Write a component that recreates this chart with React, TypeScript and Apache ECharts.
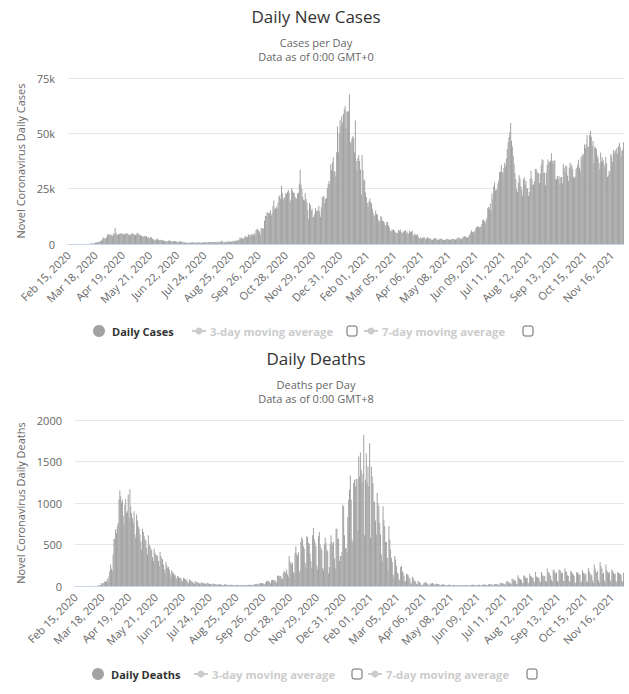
import { useEffect, useRef } from 'react';
import * as echarts from 'echarts';

// Daily reported values, one row per week (Sat .. Fri), starting Sat Feb 15, 2020.
const dailyCases = [
  0, 0, 0, 0, 0, 0, 0,
  0, 0, 0, 4, 0, 3, 5,
  8, 12, 4, 11, 34, 30, 48,
  43, 67, 48, 52, 83, 134, 208,
  342, 251, 152, 407, 676, 643, 714,
  1035, 665, 967, 1427, 1452, 2129, 2885,
  2546, 2433, 2619, 3009, 4324, 4244, 4450,
  3735, 4450, 3802, 3634, 4800, 4344, 7300,
  5233, 4364, 3944, 4342, 4617, 4618, 4900,
  4800, 4676, 4301, 4451, 4583, 4700, 4913,
  4463, 4309, 3996, 4076, 4700, 4583, 4806,
  4339, 4339, 3985, 4406, 5100, 4614, 4649,
  3896, 3923, 3877, 3403, 3242, 3446, 3560,
  3450, 3534, 2684, 3142, 2472, 2615, 3287,
  2959, 2405, 2004, 1625, 2013, 2095, 1887,
  2445, 1936, 1570, 1653, 1871, 1805, 1650,
  1557, 1326, 1205, 1387, 1003, 1218, 1541,
  1425, 1514, 1056, 1279, 1115, 1218, 1346,
  1295, 958, 1221, 874, 653, 1118, 1380,
  890, 814, 961, 689, 829, 576, 544,
  516, 624, 352, 581, 630, 512, 820,
  650, 530, 650, 598, 538, 687, 642,
  667, 827, 580, 445, 560, 769, 768,
  767, 744, 581, 685, 763, 846, 880,
  744, 938, 670, 891, 950, 871, 758,
  1062, 1012, 728, 814, 1089, 1182, 1441,
  1040, 726, 713, 1033, 812, 1182, 1033,
  1288, 1041, 853, 1184, 1048, 1522, 1276,
  1108, 1715, 1295, 1508, 1940, 1735, 2988,
  2326, 2988, 2420, 2460, 2659, 3539, 3497,
  3330, 3105, 4368, 3991, 3395, 4322, 4422,
  4322, 3899, 4926, 3929, 6178, 6634, 6874,
  6042, 5693, 4044, 7143, 7108, 6914, 6968,
  10500, 12800, 12600, 14500, 14200, 13800, 13900,
  15200, 12900, 13900, 17200, 19700, 15700, 16200,
  16900, 16100, 18800, 21300, 22000, 20500, 26300,
  23000, 19800, 20900, 21000, 22900, 22600, 23500,
  24400, 23200, 18900, 20000, 25200, 24100, 23300,
  23000, 21200, 20700, 20400, 22900, 23000, 27300,
  33400, 26800, 24900, 21400, 20000, 19600, 22900,
  20300, 18700, 15400, 11200, 18500, 17600, 15000,
  15900, 12100, 12200, 13400, 16200, 14900, 15000,
  15500, 17300, 14700, 12300, 16600, 20900, 21600,
  21500, 18400, 20300, 20800, 25200, 27000, 28500,
  27100, 35900, 33400, 36800, 39200, 32700, 32700,
  30500, 41400, 53100, 41400, 50000, 55900, 53300,
  57700, 54900, 58800, 60900, 62300, 52600, 59900,
  59900, 59900, 67700, 46200, 45500, 47500, 48700,
  48000, 41300, 55800, 37500, 33300, 38900, 40200,
  37500, 33500, 22200, 40200, 33300, 28600, 29100,
  23300, 21100, 18600, 16800, 19200, 20600, 19100,
  18300, 15800, 14100, 12400, 13000, 15100, 13500,
  13300, 10900, 9800, 10600, 12700, 12000, 10400,
  10400, 9800, 8500, 8500, 9900, 9900, 8500,
  7400, 6000, 5500, 6400, 6300, 6600, 6100,
  5200, 5100, 5100, 4700, 6400, 5900, 6600,
  5500, 4600, 5100, 5800, 5800, 6300, 4800,
  5600, 4600, 4700, 6000, 5400, 5600, 6000,
  3900, 3900, 4700, 4100, 4000, 4500, 3400,
  2700, 2300, 3000, 2400, 2600, 3100, 3200,
  2600, 2000, 2500, 3000, 2500, 2700, 2600,
  2100, 1900, 1800, 2500, 2400, 2600, 2700,
  2000, 1600, 1900, 2100, 2300, 2400, 2400,
  1900, 1700, 1800, 1900, 2100, 2200, 2400,
  2000, 1800, 1900, 2100, 2300, 2400, 2200,
  2100, 1900, 2200, 2700, 2800, 2900, 2600,
  2200, 2500, 2400, 3200, 3500, 3600, 3400,
  3100, 2700, 3200, 3900, 4300, 5300, 6200,
  5300, 5300, 5600, 6000, 7500, 7400, 8100,
  7700, 7500, 7900, 7700, 9000, 11000, 11000,
  10300, 9300, 10600, 11600, 16100, 16700, 15800,
  18300, 14900, 22800, 20500, 26100, 27800, 24200,
  24900, 24200, 27300, 28800, 32500, 32600, 35700,
  32400, 31800, 34500, 36700, 35300, 38600, 42900,
  46000, 48200, 50500, 54700, 46600, 44100, 39900,
  36400, 31800, 29200, 24900, 23500, 27700, 31100,
  29600, 26100, 24500, 21900, 29300, 30200, 27000,
  28600, 25200, 25100, 21700, 23500, 29600, 33100,
  29500, 26800, 26900, 28400, 33900, 34000, 32700,
  32100, 31900, 27600, 31800, 35800, 38300, 38000,
  32100, 32300, 26500, 32200, 35700, 38200, 36600,
  37000, 37600, 41000, 37500, 36200, 38000, 37600,
  29500, 29100, 30800, 29200, 30600, 26900, 30100,
  30300, 27600, 36100, 34500, 32700, 35600, 35000,
  30900, 28500, 34500, 36700, 34800, 35800, 33900,
  30300, 29700, 30500, 33800, 34500, 35900, 38100,
  34400, 32900, 39700, 38500, 40800, 40200, 44900,
  43400, 45100, 49200, 44000, 43700, 49100, 51200,
  48500, 44300, 46500, 36600, 43900, 43400, 42900,
  40100, 38900, 36600, 33900, 41300, 37200, 39100,
  37800, 36000, 34800, 39300, 36500, 30300, 31000,
  33100, 32300, 40700, 39600, 37000, 42500, 40900,
  41900, 42500, 43400, 40700, 44200, 45600, 43700,
  39500, 42100, 42600, 46000,
];

const dailyDeaths = [
  0, 0, 0, 0, 0, 0, 0,
  0, 0, 0, 0, 0, 0, 0,
  0, 0, 0, 0, 0, 0, 0,
  0, 1, 2, 1, 0, 2, 2,
  11, 4, 12, 35, 18, 33, 40,
  56, 48, 54, 87, 41, 115, 181,
  260, 209, 180, 381, 563, 569, 684,
  640, 720, 760, 1040, 1150, 1080, 1010,
  1040, 850, 740, 980, 1050, 880, 900,
  1100, 820, 1166, 960, 880, 820, 760,
  900, 620, 580, 860, 790, 720, 690,
  620, 540, 440, 690, 650, 600, 560,
  550, 460, 380, 610, 500, 480, 450,
  430, 350, 300, 450, 400, 380, 370,
  360, 300, 240, 410, 360, 330, 320,
  260, 200, 160, 290, 250, 220, 230,
  200, 150, 110, 190, 170, 150, 140,
  130, 100, 80, 120, 110, 100, 95,
  90, 65, 50, 100, 90, 85, 75,
  65, 45, 30, 80, 70, 60, 55,
  50, 35, 25, 60, 50, 45, 40,
  40, 30, 20, 45, 40, 35, 30,
  35, 25, 15, 40, 35, 30, 25,
  25, 20, 12, 30, 25, 22, 20,
  20, 15, 10, 25, 20, 18, 16,
  16, 12, 8, 20, 18, 15, 14,
  14, 10, 6, 16, 14, 12, 12,
  12, 8, 6, 14, 12, 11, 10,
  10, 8, 6, 12, 12, 10, 10,
  12, 8, 6, 14, 16, 12, 12,
  14, 10, 8, 18, 20, 20, 22,
  26, 18, 14, 32, 36, 34, 32,
  30, 22, 18, 42, 58, 62, 58,
  60, 40, 30, 70, 76, 70, 66,
  70, 50, 40, 120, 130, 120, 110,
  120, 90, 80, 150, 180, 170, 160,
  200, 140, 110, 360, 300, 280, 260,
  280, 170, 150, 400, 480, 390, 370,
  410, 160, 190, 530, 590, 560, 480,
  450, 280, 220, 600, 590, 520, 510,
  390, 300, 220, 610, 700, 560, 520,
  480, 250, 200, 600, 650, 500, 460,
  430, 220, 190, 500, 580, 520, 440,
  420, 150, 230, 510, 610, 530, 490,
  530, 330, 210, 690, 690, 570, 570,
  300, 360, 360, 410, 980, 960, 610,
  450, 460, 410, 830, 1040, 1160, 1330,
  1040, 560, 530, 1240, 1280, 1200, 1290,
  1290, 670, 1560, 1320, 1610, 1400, 1250,
  1350, 1820, 610, 1280, 1600, 1240, 1440,
  1200, 1720, 580, 1440, 1320, 1240, 1020,
  1010, 790, 620, 1120, 1000, 960, 760,
  620, 380, 300, 960, 800, 720, 530,
  530, 340, 180, 720, 560, 440, 340,
  290, 140, 100, 360, 320, 240, 160,
  150, 80, 70, 230, 240, 180, 160,
  120, 60, 50, 150, 140, 130, 100,
  90, 40, 20, 110, 100, 70, 60,
  50, 20, 20, 60, 50, 40, 30,
  10, 10, 20, 40, 40, 50, 30,
  30, 10, 10, 20, 30, 30, 35,
  30, 10, 20, 20, 30, 20, 20,
  20, 10, 10, 15, 20, 15, 15,
  15, 5, 5, 10, 15, 15, 15,
  10, 5, 5, 15, 10, 10, 10,
  10, 5, 5, 10, 10, 10, 10,
  10, 5, 5, 15, 10, 10, 10,
  10, 5, 5, 10, 15, 15, 15,
  10, 5, 5, 15, 10, 15, 15,
  10, 5, 5, 15, 20, 15, 15,
  15, 10, 5, 20, 20, 20, 15,
  20, 10, 5, 25, 20, 20, 20,
  20, 15, 10, 40, 35, 30, 30,
  30, 20, 10, 50, 50, 60, 40,
  40, 30, 20, 90, 70, 80, 70,
  60, 30, 20, 130, 100, 90, 80,
  70, 40, 30, 130, 120, 100, 90,
  100, 40, 30, 150, 120, 110, 100,
  100, 60, 40, 170, 110, 110, 100,
  100, 60, 40, 170, 140, 120, 110,
  120, 60, 50, 210, 170, 160, 140,
  120, 70, 50, 190, 200, 170, 150,
  160, 60, 50, 200, 190, 180, 150,
  160, 60, 60, 210, 180, 170, 130,
  120, 60, 50, 180, 170, 150, 140,
  120, 40, 40, 170, 160, 150, 130,
  140, 50, 50, 190, 160, 150, 130,
  150, 50, 50, 220, 180, 150, 140,
  130, 70, 40, 260, 210, 170, 160,
  180, 70, 40, 290, 240, 210, 150,
  160, 70, 40, 260, 190, 170, 150,
  170, 70, 50, 200, 180, 160, 140,
  150, 60, 40, 170, 160, 150, 140,
  140, 60, 50, 160,
];

const MONTHS = ['Jan', 'Feb', 'Mar', 'Apr', 'May', 'Jun', 'Jul', 'Aug', 'Sep', 'Oct', 'Nov', 'Dec'];
const FIRST_DAY = Date.UTC(2020, 1, 15);

// One category per reported day: "Feb 15, 2020" ...
const dayLabels = dailyCases.map((_, i) => {
  const d = new Date(FIRST_DAY + i * 86400000);
  return `${MONTHS[d.getUTCMonth()]} ${String(d.getUTCDate()).padStart(2, '0')}, ${d.getUTCFullYear()}`;
});

const caseAxis = { min: 0, max: 75000, step: 25000 };
const deathAxis = { min: 0, max: 2000, step: 500 };
const legendExtras = ['3-day moving average', '7-day moving average'];

const FONT = "'Open Sans', 'Noto Sans', sans-serif";
const BAR = '#a2a2a2';
const INACTIVE = '#cccccc';

function txt(text: string, x: number, y: number, size: number, fill: string, align = 'center', weight = 'normal') {
  return {
    type: 'text',
    x,
    y,
    silent: true,
    style: {
      text,
      fill,
      fontSize: size,
      fontFamily: FONT,
      fontWeight: weight,
      lineHeight: Math.round(size * 1.1),
      align,
      textAlign: align,
      verticalAlign: 'middle',
      textVerticalAlign: 'middle',
    },
  };
}

function legendRow(y: number, mainName: string, pos: { main: number; e1: number; box1: number; e2: number; box2: number }) {
  const items: any[] = [
    { type: 'circle', silent: true, shape: { cx: pos.main - 13, cy: y, r: 6 }, style: { fill: BAR } },
    txt(mainName, pos.main, y, 11, '#333333', 'left', 'bold'),
  ];
  [pos.e1, pos.e2].forEach((x, k) => {
    items.push({ type: 'line', silent: true, shape: { x1: x - 18, y1: y, x2: x - 4, y2: y }, style: { stroke: INACTIVE, lineWidth: 2 } });
    items.push({ type: 'circle', silent: true, shape: { cx: x - 11, cy: y, r: 3.5 }, style: { fill: INACTIVE } });
    items.push(txt(legendExtras[k], x, y, 11.3, INACTIVE, 'left', 'bold'));
  });
  [pos.box1, pos.box2].forEach((x) => {
    items.push({ type: 'rect', silent: true, shape: { x, y: y - 5, width: 10, height: 10, r: 2 }, style: { fill: '#ffffff', stroke: '#666666', lineWidth: 1 } });
  });
  return items;
}

function valueAxis(gridIndex: number, range: { min: number; max: number; step: number }, name: string, gap: number, fmt: (v: number) => string) {
  return {
    type: 'value',
    gridIndex,
    min: range.min,
    max: range.max,
    interval: range.step,
    name,
    nameLocation: 'middle',
    nameGap: gap,
    nameTextStyle: { fontSize: 11, color: '#666666', fontFamily: FONT },
    axisLine: { show: false },
    axisTick: { show: false },
    axisLabel: { fontSize: 11, color: '#666666', margin: 13, fontFamily: FONT, formatter: fmt },
    splitLine: { lineStyle: { color: '#e6e6e6', width: 1 } },
  };
}

function dayAxis(gridIndex: number) {
  return {
    type: 'category',
    gridIndex,
    data: dayLabels,
    boundaryGap: true,
    axisLine: { lineStyle: { color: '#ccd6eb', width: 1 } },
    axisTick: { show: false },
    axisLabel: { interval: 31, rotate: 45, fontSize: 11, color: '#666666', margin: 9, fontFamily: FONT },
    splitLine: { show: false },
  };
}

export default function App() {
  const ref = useRef<HTMLDivElement>(null);

  useEffect(() => {
    if (!ref.current) return;
    const chart = echarts.init(ref.current, undefined, { renderer: 'svg' });
    chart.setOption({
      animation: false,
      backgroundColor: '#ffffff',
      textStyle: { fontFamily: FONT },
      grid: [
        { left: 68, top: 78, width: 556, height: 166 },
        { left: 75, top: 420, width: 549, height: 166 },
      ],
      xAxis: [dayAxis(0), dayAxis(1)],
      yAxis: [
        valueAxis(0, caseAxis, 'Novel Coronavirus Daily Cases', 42, (v: number) => (v === 0 ? '0' : `${v / 1000}k`)),
        valueAxis(1, deathAxis, 'Novel Coronavirus Daily Deaths', 49, (v: number) => String(v)),
      ],
      series: [
        {
          type: 'bar',
          name: 'Daily Cases',
          xAxisIndex: 0,
          yAxisIndex: 0,
          data: dailyCases,
          barCategoryGap: '15%',
          itemStyle: { color: BAR },
        },
        {
          type: 'bar',
          name: 'Daily Deaths',
          xAxisIndex: 1,
          yAxisIndex: 1,
          data: dailyDeaths,
          barCategoryGap: '15%',
          itemStyle: { color: BAR },
        },
      ],
      graphic: [
        txt('Daily New Cases', 316, 16, 17, '#333333'),
        txt('Cases per Day', 316, 42.5, 11, '#666666'),
        txt('Data as of 0:00 GMT+0', 316, 56.5, 11, '#666666'),
        txt('Daily Deaths', 316, 358, 17, '#333333'),
        txt('Deaths per Day', 316, 384, 11, '#666666'),
        txt('Data as of 0:00 GMT+8', 316, 398, 11, '#666666'),
        ...legendRow(331, 'Daily Cases', { main: 112, e1: 210, box1: 347, e2: 382, box2: 523 }),
        ...legendRow(674, 'Daily Deaths', { main: 111, e1: 212, box1: 352, e2: 386, box2: 527 }),
      ],
    });
    return () => chart.dispose();
  }, []);

  return <div ref={ref} style={{ position: 'absolute', left: 0, top: 0, width: 629, height: 694 }} />;
}
